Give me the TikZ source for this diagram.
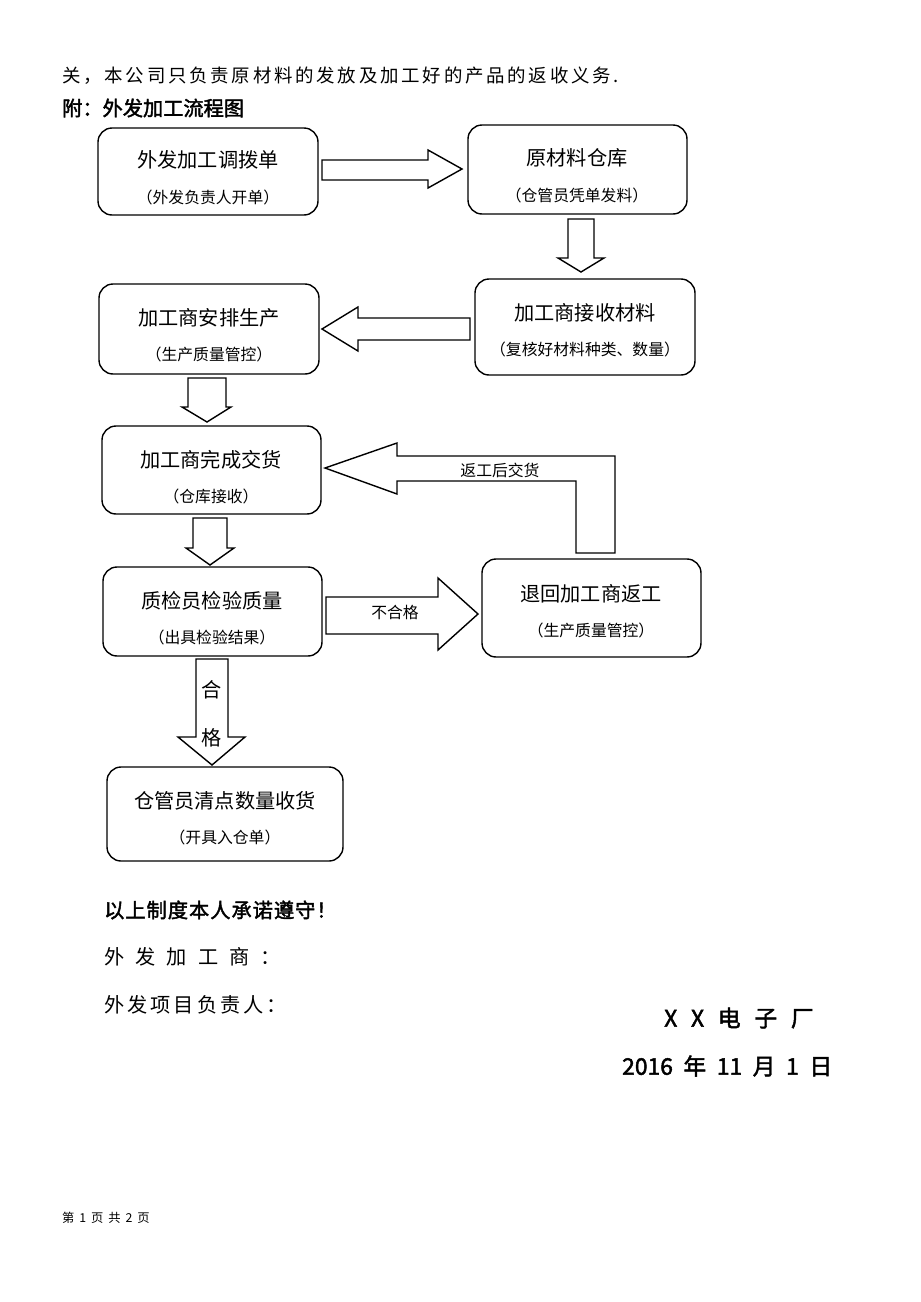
\documentclass[tikz,border=0pt]{standalone}
\usepackage{fontspec}
\setmainfont{Liberation Sans}
\newfontfamily\cjk{Noto Sans CJK SC}
\newfontfamily\cjkb{Noto Sans CJK SC}[FakeBold=2]
\begin{document}
\begin{tikzpicture}[x=0.02cm,y=-0.02cm,
 box/.style={draw,rounded corners=8pt,line width=0.8pt},
 ttl/.style={font=\cjk\fontsize{11.5}{13}\selectfont},
 sub/.style={font=\cjk\fontsize{9}{11}\selectfont},
 arr/.style={draw,line width=0.8pt,fill=white}]
\useasboundingbox (0,0) rectangle (920,1302);
\node[anchor=west,font=\cjk\fontsize{10.5}{12}\selectfont\addfontfeature{LetterSpace=15}] (t1) at (56,76) {关，本公司只负责原材料的发放及加工好的产品的返收义务.};
\node[anchor=west,font=\cjkb\fontsize{11.5}{13}\selectfont] (t2) at (56,108) {附：外发加工流程图};
% boxes
\draw[box] (98,128) rectangle (318,215); \node[ttl] (b1) at (208,160) {外发加工调拨单}; \node[sub] (s1) at (208,197) {（外发负责人开单）};
\draw[box] (468,125) rectangle (687,214); \node[ttl] (b2) at (577,158) {原材料仓库}; \node[sub] (s2) at (577,195) {（仓管员凭单发料）};
\draw[box] (475,279) rectangle (695,375); \node[ttl] (b3) at (585,313) {加工商接收材料}; \node[sub] (s3) at (585,349) {（复核好材料种类、数量）};
\draw[box] (99,284) rectangle (319,374); \node[ttl] (b4) at (209,318) {加工商安排生产}; \node[sub] (s4) at (209,354) {（生产质量管控）};
\draw[box] (102,426) rectangle (321,514); \node[ttl] (b5) at (211,460) {加工商完成交货}; \node[sub] (s5) at (211,496) {（仓库接收）};
\draw[box] (103,567) rectangle (322,656); \node[ttl] (b6) at (212,601) {质检员检验质量}; \node[sub] (s6) at (212,637) {（出具检验结果）};
\draw[box] (482,559) rectangle (701,657); \node[ttl] (b7) at (591,594) {退回加工商返工}; \node[sub] (s7) at (591,630) {（生产质量管控）};
\draw[box] (107,767) rectangle (343,861); \node[ttl] (b8) at (225,801) {仓管员清点数量收货}; \node[sub] (s8) at (225,837) {（开具入仓单）};
% block arrows
\draw[arr] (322,160)--(428,160)--(428,150)--(462,169)--(428,188)--(428,180)--(322,180)--cycle;
\draw[arr] (568,219)--(594,219)--(594,258)--(604,258)--(581,272)--(558,258)--(568,258)--cycle;
\draw[arr] (470,318)--(358,318)--(358,307)--(322,329)--(358,351)--(358,340)--(470,340)--cycle;
\draw[arr] (188,378)--(226,378)--(226,407)--(231,407)--(207,422)--(182,407)--(188,407)--cycle;
\draw[arr] (325,468)--(397,443)--(397,456)--(615,456)--(615,553)--(576,553)--(576,481)--(397,481)--(397,494)--cycle;
\node[sub] (l1) at (500,470) {返工后交货};
\draw[arr] (193,518)--(227,518)--(227,548)--(234,548)--(210,565)--(186,548)--(193,548)--cycle;
\draw[arr] (326,597)--(438,597)--(438,578)--(478,614)--(438,650)--(438,634)--(326,634)--cycle;
\node[sub] (l2) at (395,612) {不合格};
\draw[arr] (196,659)--(228,659)--(228,737)--(245,737)--(212,765)--(178,737)--(196,737)--cycle;
\node[ttl] (l3) at (212,690) {合};
\node[ttl] (l4) at (212,738) {格};
% bottom text
\node[anchor=west,font=\cjkb\fontsize{11.5}{13}\selectfont\addfontfeature{LetterSpace=5}] (t3) at (98,910) {以上制度本人承诺遵守！};
\node[anchor=west,font=\cjk\fontsize{11.5}{13}\selectfont\addfontfeature{LetterSpace=55}] (t4) at (98,957) {外发加工商：};
\node[anchor=west,font=\cjk\fontsize{11.5}{13}\selectfont\addfontfeature{LetterSpace=15}] (t5) at (98,1005) {外发项目负责人：};
\node[anchor=west,font=\cjkb\fontsize{13}{15}\selectfont\addfontfeature{LetterSpace=60}] (t6) at (658,1018) {XX电子厂};
\node[anchor=west,font=\cjkb\fontsize{13}{15}\selectfont] (t7) at (616,1066) {2016\hspace{6pt}年\hspace{6pt}11\hspace{6pt}月\hspace{6pt}1\hspace{6pt}日};
\node[anchor=west,font=\cjk\fontsize{7}{8}\selectfont\addfontfeature{LetterSpace=40}] (t8) at (56,1218) {第1页共2页};
\end{tikzpicture}
\end{document}
